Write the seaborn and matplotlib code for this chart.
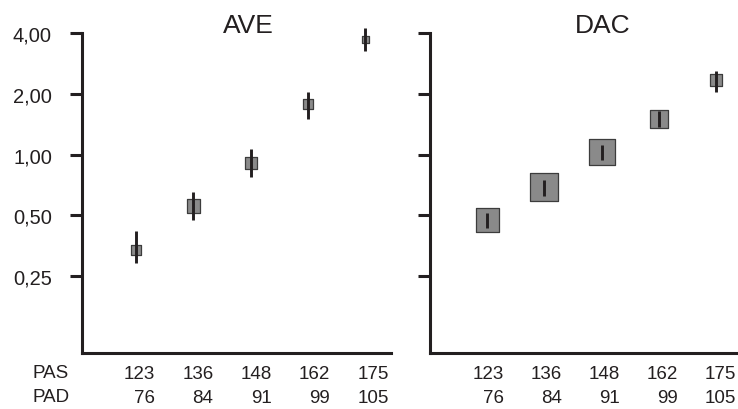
"""
Two panel chart: AVE and DAC estimates (log scale) by blood pressure level.
"""

import numpy as np
import pandas as pd
import seaborn as sns
import matplotlib
matplotlib.use("Agg")
import matplotlib.pyplot as plt
import matplotlib.transforms as mtransforms

# data
pas = ["123", "136", "148", "162", "175"]
pad = ["76", "84", "91", "99", "105"]

ave_value = [0.336, 0.556, 0.91, 1.78, 3.72]
ave_low = [0.290, 0.472, 0.773, 1.50, 3.26]
ave_high = [0.417, 0.649, 1.06, 2.04, 4.22]
ave_weight = [11, 14, 13, 11, 8]

dac_value = [0.474, 0.694, 1.025, 1.50, 2.33]
dac_low = [0.432, 0.62, 0.94, 1.37, 2.03]
dac_high = [0.512, 0.75, 1.11, 1.64, 2.60]
dac_weight = [24, 29, 27, 19, 13]

y_ticks = [0.25, 0.5, 1, 2, 4]
y_labels = ["0,25", "0,50", "1,00", "2,00", "4,00"]

DARK = "#231f20"
FILL = "#8a8a8a"

sns.set_style("ticks")
plt.rcParams["font.family"] = ["Liberation Sans", "DejaVu Sans"]


def make_frame(value, low, high, weight):
    """ Build a small dataframe for one panel. """
    df = pd.DataFrame({"pos": np.arange(len(value)), "value": value,
                       "low": low, "high": high, "weight": weight})
    # marker side in points, minus the edge line
    df["s"] = (df["weight"] * 0.72 - 0.7) ** 2
    return df


def draw_panel(ax, df, title, title_x, xlim, label_step, label_shift,
               show_labels):
    sns.scatterplot(data=df, x="pos", y="value", marker="s", s=df["s"],
                    color=FILL, edgecolor="#3c3c3c", linewidth=0.9,
                    legend=False, ax=ax, zorder=2, clip_on=False)
    ax.vlines(df["pos"], df["low"], df["high"], color=DARK, lw=2.1,
              zorder=3, clip_on=False)
    ax.set_yscale("log", base=2)
    ax.set_ylim(0.104, 4.0)
    ax.set_xlim(*xlim)
    ax.set_yticks(y_ticks)
    ax.minorticks_off()
    if show_labels:
        ax.set_yticklabels(y_labels)
    else:
        ax.set_yticklabels([])
    ax.set_xticks([])
    ax.set_xlabel("")
    ax.set_ylabel("")
    ax.tick_params(axis="y", length=8.6, width=2.2, color=DARK, pad=13,
                   labelsize=14.5, labelcolor=DARK)
    for side in ["top", "right"]:
        ax.spines[side].set_visible(False)
    for side in ["left", "bottom"]:
        ax.spines[side].set_linewidth(2.2)
        ax.spines[side].set_color(DARK)
    ax.text(title_x, 1.003, title, transform=ax.transAxes, ha="center",
            va="baseline", fontsize=19, color=DARK)

    # two rows of category labels under the axis, right aligned
    trans = mtransforms.blended_transform_factory(ax.transData, ax.transAxes)
    for i in range(len(pas)):
        x = i * label_step + label_shift
        ax.text(x, -0.077, pas[i], transform=trans, ha="right",
                va="baseline", fontsize=13.5, color=DARK)
        ax.text(x, -0.152, pad[i], transform=trans, ha="right",
                va="baseline", fontsize=13.5, color=DARK)


def main():
    ave = make_frame(ave_value, ave_low, ave_high, ave_weight)
    dac = make_frame(dac_value, dac_low, dac_high, dac_weight)

    fig = plt.figure(figsize=(7.38, 4.10), dpi=100)
    ax1 = fig.add_axes([0.1111, 0.1366, 0.4187, 0.7805])
    ax2 = fig.add_axes([0.5827, 0.1366, 0.4173, 0.7805])

    draw_panel(ax1, ave, "AVE", 0.537, (-0.944, 4.45), 1.02, 0.33, True)
    draw_panel(ax2, dac, "DAC", 0.562, (-0.996, 4.38), 1.012, 0.29, False)

    fig.text(0.0434, 1 - 378 / 410, "PAS", ha="left", va="baseline",
             fontsize=13.5, color=DARK)
    fig.text(0.0434, 1 - 402 / 410, "PAD", ha="left", va="baseline",
             fontsize=13.5, color=DARK)

    fig.savefig("out.png", dpi=100)


if __name__ == '__main__':
    main()
